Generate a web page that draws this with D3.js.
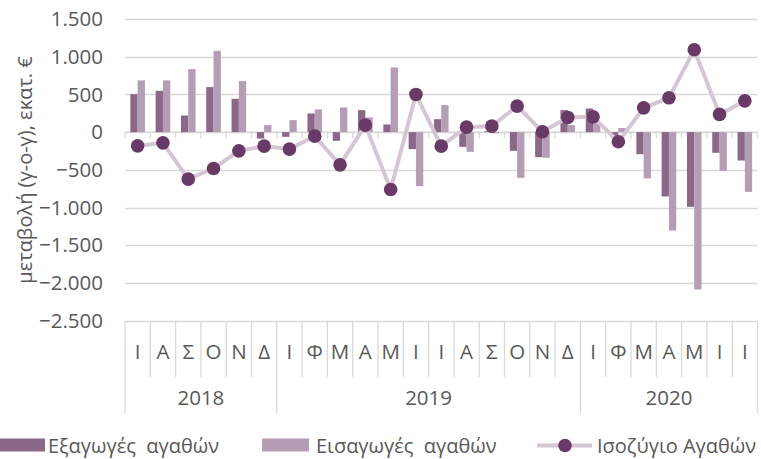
<!DOCTYPE html>
<html>
<head>
<meta charset="utf-8">
<script src="https://cdn.jsdelivr.net/npm/d3@7"></script>
<style>
  body { margin: 0; background: #fff; }
  svg text { font-family: "Open Sans", sans-serif; fill: #595959; }
</style>
</head>
<body>
<svg id="chart"></svg>
<script>
// month letters, one per bar group (Jul 2018 - Jul 2020)
const months = ["Ι","Α","Σ","Ο","Ν","Δ","Ι","Φ","Μ","Α","Μ","Ι","Ι","Α","Σ","Ο","Ν","Δ","Ι","Φ","Μ","Α","Μ","Ι","Ι"]
const yearLabels = ["2018", "2019", "2020"]
const yearCounts = [6, 12, 7]

// y-o-y change, million euro
const exportsG = [504, 548, 221, 597, 442, -85, -62, 248, -115, 292, 102, -225, 172, -195, 12, -248, -332, 292, 314, -70, -292, -853, -990, -274, -376]
const importsG = [686, 686, 836, 1078, 676, 93, 159, 301, 327, 195, 858, -716, 358, -261, -15, -606, -340, 93, 115, 55, -614, -1304, -2086, -513, -792]
const balance = [-182, -142, -623, -482, -248, -186, -225, -53, -434, 93, -760, 500, -186, 66, 80, 345, 5, 195, 203, -128, 322, 455, 1092, 235, 415]

const yTicks = [1500, 1000, 500, 0, -500, -1000, -1500, -2000, -2500]

const seriesNames = ["Εξαγωγές  αγαθών", "Εισαγωγές  αγαθών", "Ισοζύγιο Αγαθών"]

const W = 761, H = 459
const svg = d3.select('#chart').attr('width', W).attr('height', H)

const fmt = v => d3.format(',')(v).replace(/,/g, '.')

const x = d3.scaleBand()
  .domain(d3.range(months.length))
  .range([125, 757.5])
  .padding(0)

const y = d3.scaleLinear()
  .domain([-2500, 1500])
  .range([320.7, 19])

const grid = '#d9d9d9'
const barW = 7.3
const fs = '20.5px'

// gridlines
svg.append('g')
  .selectAll('line')
  .data(yTicks)
  .join('line')
  .attr('x1', 125).attr('x2', 757.5)
  .attr('y1', d => Math.round(y(d)) + 0.5)
  .attr('y2', d => Math.round(y(d)) + 0.5)
  .attr('stroke', grid)
  .attr('stroke-width', 1.3)

// y axis labels
svg.append('g')
  .selectAll('text')
  .data(yTicks)
  .join('text')
  .attr('x', 103)
  .attr('y', d => y(d))
  .attr('dy', '0.35em')
  .attr('text-anchor', 'end')
  .style('font-size', fs)
  .text(d => fmt(d))

svg.append('text')
  .attr('transform', `translate(25,${170}) rotate(-90)`)
  .attr('text-anchor', 'middle')
  .attr('dy', '0.35em')
  .style('font-size', '20px')
  .text('μεταβολή (γ-ο-γ), εκατ. €')

// zero axis with small ticks
const bounds = d3.range(months.length + 1).map(i => 125 + i * x.bandwidth())
svg.append('line')
  .attr('x1', 125).attr('x2', 757.5)
  .attr('y1', y(0)).attr('y2', y(0))
  .attr('stroke', grid).attr('stroke-width', 1.3)
svg.append('g')
  .selectAll('line')
  .data(bounds)
  .join('line')
  .attr('x1', d => d).attr('x2', d => d)
  .attr('y1', y(0)).attr('y2', y(0) + 6)
  .attr('stroke', grid).attr('stroke-width', 1.3)

// category label dividers
let yearStarts = [0]
yearCounts.forEach((c, i) => yearStarts.push(yearStarts[i] + c))
svg.append('g')
  .selectAll('line')
  .data(d3.range(months.length + 1))
  .join('line')
  .attr('x1', i => bounds[i]).attr('x2', i => bounds[i])
  .attr('y1', y(-2500))
  .attr('y2', i => yearStarts.includes(i) ? 413 : 377)
  .attr('stroke', grid).attr('stroke-width', 1.3)

svg.append('g')
  .selectAll('text')
  .data(months)
  .join('text')
  .attr('x', (d, i) => x(i) + x.bandwidth() / 2)
  .attr('y', 352)
  .attr('dy', '0.35em')
  .attr('text-anchor', 'middle')
  .style('font-size', fs)
  .text(d => d)

svg.append('g')
  .selectAll('text')
  .data(yearLabels)
  .join('text')
  .attr('x', (d, i) => (bounds[yearStarts[i]] + bounds[yearStarts[i + 1]]) / 2)
  .attr('y', 398)
  .attr('dy', '0.35em')
  .attr('text-anchor', 'middle')
  .style('font-size', fs)
  .text(d => d)

// bars
const cExp = '#8b6888', cImp = '#b59db5', cLine = '#d5c6d5', cDot = '#6a3a66'

svg.append('g')
  .selectAll('rect')
  .data(exportsG)
  .join('rect')
  .attr('x', (d, i) => x(i) + x.bandwidth() / 2 - barW)
  .attr('width', barW)
  .attr('y', d => y(Math.max(0, d)))
  .attr('height', d => Math.abs(y(d) - y(0)))
  .attr('fill', cExp)

svg.append('g')
  .selectAll('rect')
  .data(importsG)
  .join('rect')
  .attr('x', (d, i) => x(i) + x.bandwidth() / 2)
  .attr('width', barW)
  .attr('y', d => y(Math.max(0, d)))
  .attr('height', d => Math.abs(y(d) - y(0)))
  .attr('fill', cImp)

// balance line
const line = d3.line()
  .x((d, i) => x(i) + x.bandwidth() / 2)
  .y(d => y(d))

svg.append('path')
  .datum(balance)
  .attr('d', line)
  .attr('fill', 'none')
  .attr('stroke', cLine)
  .attr('stroke-width', 4)
  .attr('stroke-linejoin', 'round')

svg.append('g')
  .selectAll('circle')
  .data(balance)
  .join('circle')
  .attr('cx', (d, i) => x(i) + x.bandwidth() / 2)
  .attr('cy', d => y(d))
  .attr('r', 6.8)
  .attr('fill', cDot)

// legend
const ly = 445.5
const lg = svg.append('g')
lg.append('rect').attr('x', 0).attr('y', ly - 7).attr('width', 45).attr('height', 13).attr('fill', cExp)
lg.append('text').attr('x', 48).attr('y', ly).attr('dy', '0.35em')
  .style('font-size', '20px').style('white-space', 'pre').text(seriesNames[0])
lg.append('rect').attr('x', 262).attr('y', ly - 7).attr('width', 47).attr('height', 13).attr('fill', cImp)
lg.append('text').attr('x', 316).attr('y', ly).attr('dy', '0.35em')
  .style('font-size', '20px').style('white-space', 'pre').text(seriesNames[1])
lg.append('line').attr('x1', 537).attr('x2', 592).attr('y1', ly).attr('y2', ly)
  .attr('stroke', cLine).attr('stroke-width', 4)
lg.append('circle').attr('cx', 565).attr('cy', ly).attr('r', 6.8).attr('fill', cDot)
lg.append('text').attr('x', 597).attr('y', ly).attr('dy', '0.35em')
  .style('font-size', '20px').text(seriesNames[2])
</script>
</body>
</html>
